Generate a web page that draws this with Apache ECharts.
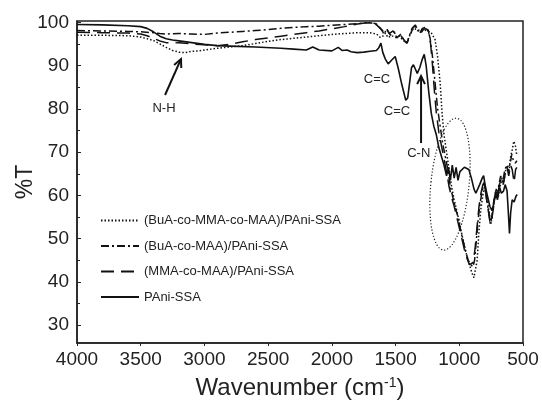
<!DOCTYPE html>
<html><head><meta charset="utf-8">
<script src="https://cdn.jsdelivr.net/npm/echarts@6/dist/echarts.min.js"></script>
<style>html,body{margin:0;padding:0;background:#fff}#c{width:542px;height:405px}</style>
</head><body><div id="c"></div><script>
const xTicks = [4000, 3500, 3000, 2500, 2000, 1500, 1000, 500];
const yTicks = [30, 40, 50, 60, 70, 80, 90, 100];
const yMinorTicks = [35, 45, 55, 65, 75, 85, 95];
const seriesNames = ['(BuA-co-MMA-co-MAA)/PAni-SSA', '(BuA-co-MAA)/PAni-SSA', '(MMA-co-MAA)/PAni-SSA', 'PAni-SSA'];

// [wavenumber, %T]
const bmmPani = [[4000,97.0],[3800,97.0],[3600,96.9],[3500,96.6],[3400,95.8],[3350,95],[3300,94.2],[3250,93.5],[3200,93.1],[3150,93],[3100,93.3],[3050,93.4],[3000,93.6],[2950,93.8],[2900,94],[2800,94.3],[2700,94.6],[2600,95.1],[2500,95.6],[2400,96],[2300,96.3],[2200,96.6],[2100,96.9],[2000,97.2],[1900,97.4],[1800,97.6],[1700,97.6],[1650,97.3],[1620,96.5],[1600,96.8],[1580,97.5],[1560,96.5],[1530,96.9],[1500,96.5],[1470,96.8],[1440,95.8],[1415,95.3],[1400,96.2],[1380,97.5],[1360,98.6],[1340,98.4],[1310,98.1],[1280,98.3],[1250,98.0],[1220,97.6],[1190,96],[1170,92],[1150,86],[1135,79],[1120,74],[1100,70],[1080,66],[1060,62],[1040,59],[1020,56.5],[1000,54],[980,51],[960,48.5],[940,46],[920,44],[900,42],[885,41],[874,41.2],[860,45],[845,52],[830,57],[815,60],[800,62.5],[790,61],[775,58],[760,55],[750,53.5],[740,56],[725,59],[710,61],[695,59.5],[680,62],[665,64],[650,63],[635,66],[620,67],[610,65],[600,68.5],[585,70.5],[572,72.5],[560,71.5],[550,69.5]];
const bmPani = [[4000,98.1],[3800,98.0],[3600,97.9],[3500,97.8],[3400,97.6],[3350,97.4],[3300,97.3],[3200,97.4],[3100,97.3],[3000,97.2],[2900,97.5],[2800,97.7],[2700,97.9],[2600,98.1],[2500,98.3],[2400,98.6],[2300,98.8],[2200,99],[2100,99.1],[2000,99.3],[1900,99.5],[1800,99.7],[1700,99.9],[1650,99.6],[1610,98.3],[1590,97.2],[1570,98.5],[1540,97],[1510,97.8],[1490,96.4],[1460,97.2],[1430,95.6],[1410,95.2],[1390,97],[1370,98.6],[1350,99.2],[1330,98.3],[1310,97.4],[1290,98.6],[1270,98.8],[1250,98.3],[1230,96.5],[1210,92],[1190,86],[1170,80],[1150,76],[1130,72],[1110,69],[1090,66],[1070,62],[1050,59.5],[1030,57],[1010,55],[990,52],[970,49.5],[950,47],[930,45],[910,44],[893,43.5],[880,45],[865,50],[850,55],[835,58.5],[820,61],[805,63],[795,61],[780,58],[765,55.5],[757,53.5],[745,55],[730,58.5],[715,61],[700,60],[690,62.5],[675,64.5],[660,63],[645,65.5],[630,67],[615,65.5],[600,67.5],[588,69.5],[575,68],[560,67.5],[548,68]];
const mmPani = [[4000,97.7],[3800,97.6],[3600,97.5],[3500,97.3],[3450,96.9],[3400,96.3],[3350,95.7],[3300,95.3],[3250,95.2],[3200,95.3],[3100,95],[3000,94.8],[2900,94.6],[2800,94.9],[2700,95.5],[2600,96],[2500,96.4],[2400,96.8],[2300,97.2],[2200,97.6],[2100,98],[2000,98.5],[1900,99],[1800,99.6],[1700,100],[1660,99.7],[1620,98.6],[1597,97.9],[1575,98.8],[1550,97.4],[1520,98],[1489,96.8],[1460,97],[1430,95.8],[1411,95.2],[1390,96.5],[1365,98.7],[1345,99.4],[1325,98.2],[1300,97.6],[1280,98.4],[1260,98.5],[1243,98.2],[1225,95],[1210,90],[1195,84],[1180,79],[1160,74.5],[1140,71.5],[1120,68.5],[1100,65.5],[1080,62],[1060,59.5],[1040,57.5],[1020,55],[1000,52.5],[980,50],[960,47.5],[940,45.5],[920,44],[905,43.7],[890,44.5],[875,48],[860,53],[845,57.5],[830,60.5],[815,62.5],[805,63],[790,60],[775,57],[760,54],[750,53.5],[740,55.5],[725,58.5],[710,61.5],[698,60],[685,62.5],[670,64],[655,62.5],[640,65],[625,66.5],[612,64.5],[598,67],[585,66],[570,63],[558,66],[548,66.5]];
const pani = [[4000,99.5],[3800,99.4],[3600,99.2],[3500,99.0],[3450,98.6],[3400,97.8],[3350,96.8],[3300,96.2],[3250,95.9],[3200,95.7],[3100,95.3],[3000,94.9],[2900,94.6],[2800,94.5],[2600,94.3],[2400,94.0],[2300,93.8],[2200,93.6],[2150,94.3],[2100,93.6],[2000,93.4],[1950,94.2],[1920,93.5],[1880,93.6],[1850,93.2],[1800,93.0],[1750,93.1],[1700,93.3],[1650,93.5],[1630,94.2],[1615,95.2],[1600,93],[1580,91.5],[1558,90.4],[1530,91.3],[1503,92.1],[1480,89.5],[1450,85.5],[1420,82],[1405,82.5],[1390,86],[1375,89.5],[1360,90.2],[1345,89.2],[1330,88.2],[1310,89.5],[1290,91.5],[1275,92.6],[1260,90],[1240,84],[1220,79],[1200,76],[1180,74],[1160,71],[1140,69],[1120,67],[1100,64.5],[1085,66.5],[1070,63.5],[1055,67],[1040,64],[1025,66.5],[1010,63.5],[995,65.5],[980,65.5],[960,66.5],[945,66.9],[925,66],[905,64],[885,61.5],[870,60.5],[855,60.8],[840,62.5],[820,64],[809,64.6],[795,62],[780,60],[760,57.5],[743,56.5],[730,58],[715,60.5],[700,59],[685,62],[670,60.5],[653,61],[640,62.5],[625,61],[615,56],[606,51.2],[597,56],[585,59],[570,58.5],[555,59.8],[546,60.2]];

// annotation anchors in data units [wavenumber, %T]
const labelNH = [3317, 80.0];
const arrowNH = [[3309, 83.2], [3184, 91.5]];
const labelCC1 = [1646, 86.9];
const labelCC2 = [1489, 79.5];
const arrowCN = [[1300, 72.1], [1300, 87.6]];
const labelCN = [1318, 69.8];
const ellipseCenter = [1073, 62.6];
const ellipseRadii = [150, 15.3];

const FONT = '"Liberation Sans", Arial, sans-serif';
const chart = echarts.init(document.getElementById('c'), null, {renderer: 'canvas'});
const lw = 1.5;
const styles = [
  {type: [1.5, 2], width: lw},
  {type: [8, 3, 2, 3], width: lw},
  {type: [13, 7], width: lw},
  {type: 'solid', width: 1.6}
];
const datasets = [bmmPani, bmPani, mmPani, pani];

chart.setOption({
  animation: false,
  backgroundColor: '#fff',
  grid: {left: 77, right: 19, top: 21, bottom: 61, show: true, borderColor: '#222', borderWidth: 1.5, containLabel: false},
  legend: {
    left: 95, top: 209, orient: 'vertical', itemWidth: 38, itemHeight: 14, itemGap: 12.5,
    itemStyle: {opacity: 0},
    textStyle: {fontFamily: FONT, fontSize: 13, color: '#222'},
    data: seriesNames
  },
  xAxis: {
    type: 'value', inverse: true, min: 500, max: 4000, interval: 500,
    name: 'Wavenumber (cm{s|-1})', nameLocation: 'middle', nameGap: 33, nameMoveOverlap: false,
    nameTextStyle: {fontFamily: FONT, fontSize: 24, color: '#222', rich: {s: {fontFamily: FONT, fontSize: 14, verticalAlign: 'top', color: '#222'}}},
    axisLine: {lineStyle: {color: '#222', width: 1.5}},
    axisTick: {inside: false, length: 3, lineStyle: {color: '#222'}},
    axisLabel: {fontFamily: FONT, fontSize: 19, color: '#222', margin: 7, formatter: v => String(v)},
    splitLine: {show: false}
  },
  yAxis: [{
    type: 'value', min: 25.9, max: 100.3,
    name: '%T', nameLocation: 'middle', nameRotate: 90, nameGap: 40, nameMoveOverlap: false,
    nameTextStyle: {fontFamily: FONT, fontSize: 23, color: '#222'},
    axisLine: {lineStyle: {color: '#222', width: 1.5}},
    axisTick: {inside: true, length: 4, customValues: yTicks, lineStyle: {color: '#222'}},
    axisLabel: {fontFamily: FONT, fontSize: 19, color: '#222', margin: 8, customValues: yTicks},
    splitLine: {show: false}
  }, {
    type: 'value', min: 25.9, max: 100.3, position: 'left',
    axisLine: {show: false},
    axisTick: {inside: true, length: 3, customValues: yMinorTicks, lineStyle: {color: '#222'}},
    axisLabel: {show: false},
    splitLine: {show: false}
  }],
  series: seriesNames.map((n, i) => ({
    name: n, type: 'line', data: datasets[i], symbol: 'none', smooth: false,
    lineStyle: {color: '#111', width: styles[i].width, type: styles[i].type},
    itemStyle: {color: '#111'}, z: 3 + i
  }))
});

function px(p) { return chart.convertToPixel({gridIndex: 0}, p); }
function arrow(from, to, head) {
  const a = px(from), b = px(to);
  const ang = Math.atan2(b[1] - a[1], b[0] - a[0]);
  const h1 = [b[0] - head * Math.cos(ang - 0.45), b[1] - head * Math.sin(ang - 0.45)];
  const h2 = [b[0] - head * Math.cos(ang + 0.45), b[1] - head * Math.sin(ang + 0.45)];
  return [
    {type: 'line', shape: {x1: a[0], y1: a[1], x2: b[0], y2: b[1]}, style: {stroke: '#111', lineWidth: 2}, z: 10},
    {type: 'polyline', shape: {points: [h1, b, h2]}, style: {stroke: '#111', lineWidth: 2, fill: null}, z: 10}
  ];
}
function label(p, t) {
  const q = px(p);
  return {type: 'text', x: q[0], y: q[1], style: {text: t, fontFamily: FONT, fontSize: 13, fill: '#222', align: 'center', verticalAlign: 'middle'}, z: 10};
}
const c = px(ellipseCenter);
const cx2 = px([ellipseCenter[0] - ellipseRadii[0], ellipseCenter[1] + ellipseRadii[1]]);
const rx = Math.abs(cx2[0] - c[0]), ry = Math.abs(cx2[1] - c[1]);
chart.setOption({
  graphic: [
    label(labelNH, 'N-H'),
    ...arrow(arrowNH[0], arrowNH[1], 9),
    label(labelCC1, 'C=C'),
    label(labelCC2, 'C=C'),
    ...arrow(arrowCN[0], arrowCN[1], 9),
    label(labelCN, 'C-N'),
    {type: 'ellipse', shape: {cx: c[0], cy: c[1], rx: rx, ry: ry}, rotation: -0.1, originX: c[0], originY: c[1],
     style: {stroke: '#222', lineWidth: 1.2, lineDash: [1.2, 2], fill: null}, z: 9}
  ]
});
</script></body></html>
